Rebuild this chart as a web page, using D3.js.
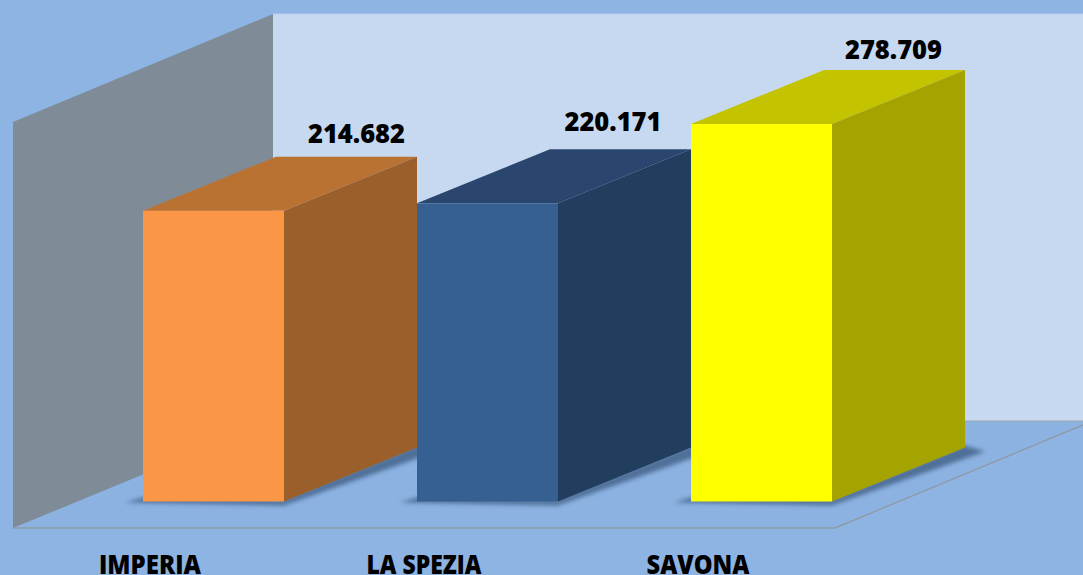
<!DOCTYPE html>
<html>
<head>
<meta charset="utf-8">
<script src="https://cdn.jsdelivr.net/npm/d3@7/dist/d3.min.js"></script>
<style>
html,body{margin:0;padding:0;background:#8EB4E3;overflow:hidden}
svg{display:block}
text{font-family:"Open Sans","Noto Sans",sans-serif;font-weight:800;fill:#000}
</style>
</head>
<body>
<svg id="c" width="1083" height="575"></svg>
<script>
const categories = ["IMPERIA", "LA SPEZIA", "SAVONA"];
const values = [214682, 220171, 278709];
const frontColors = ["#FB9647", "#376092", "#FFFF00"];
const topColors = ["#BA7233", "#2A466E", "#C3C300"];
const sideColors = ["#9B5F2B", "#213E5F", "#A5A300"];

const W = 1083, H = 575;
const depth = {x: 133, y: -54};
const baseY = 501.5;
const svg = d3.select("#c");

const x = d3.scaleBand().domain(categories).range([143, 832]).paddingInner(133 / 274).paddingOuter(0);
const y = d3.scaleLinear().domain([0, 278709]).range([baseY, 124]);
const fmt = d3.formatLocale({decimal: ",", thousands: ".", grouping: [3], currency: ["", "€"]}).format(",d");
const pts = a => a.map(p => p.join(",")).join(" ");

const defs = svg.append("defs");
defs.append("filter").attr("id", "blur").attr("x", "-20%").attr("y", "-20%").attr("width", "140%").attr("height", "140%")
  .append("feGaussianBlur").attr("stdDeviation", 2);

// page background
svg.append("rect").attr("width", W).attr("height", H).attr("fill", "#8EB4E3");

// back wall
svg.append("polygon").attr("points", pts([[273, 14], [W, 14], [W, 421], [273, 421]])).attr("fill", "#C6D9F1");
svg.append("line").attr("x1", 273).attr("x2", W).attr("y1", 14).attr("y2", 14).attr("stroke", "#B4CDEC").attr("stroke-width", 1);

// floor
svg.append("polygon").attr("points", pts([[13, 528], [273, 421], [W, 421], [W, 425], [835, 528]])).attr("fill", "#8CB2E2");
svg.append("line").attr("x1", 273).attr("x2", W).attr("y1", 421).attr("y2", 421).attr("stroke", "#9FA7AE").attr("stroke-width", 1.2);
svg.append("polyline").attr("points", pts([[13, 528], [835, 528], [W, 425]])).attr("fill", "none").attr("stroke", "#8F9AA6").attr("stroke-width", 1.4);

// side wall
svg.append("polygon").attr("points", pts([[13, 122], [273, 14], [273, 421], [13, 528]])).attr("fill", "#7F8C98");

// bars
const bars = svg.selectAll("g.bar").data(categories).join("g").attr("class", "bar");
bars.each(function(c, i) {
  const g = d3.select(this);
  const x0 = x(c), x1 = x0 + x.bandwidth(), yT = y(values[i]), yB = y(0);
  // contact shadow on the floor
  g.append("polygon")
    .attr("points", pts([[x0 - 17, yB + 1], [x1, yB + 4], [x1 + depth.x + 20, yB + depth.y + 4], [x1 + depth.x, yB + depth.y - 2], [x1, yB - 2], [x0, yB - 4]]))
    .attr("fill", "#3F5F85").attr("opacity", 0.8).attr("filter", "url(#blur)");
  g.append("polygon").attr("points", pts([[x0, yT], [x0 + depth.x, yT + depth.y], [x1 + depth.x, yT + depth.y], [x1, yT]])).attr("fill", topColors[i]);
  g.append("polygon").attr("points", pts([[x1, yT], [x1 + depth.x, yT + depth.y], [x1 + depth.x, yB + depth.y], [x1, yB]])).attr("fill", sideColors[i]);
  g.append("rect").attr("x", x0).attr("y", yT).attr("width", x.bandwidth()).attr("height", yB - yT).attr("fill", frontColors[i]);
});

// value labels
const labelDx = [143, 125.5, 132];
const labelDy = [-14, -18, -11];
svg.selectAll("text.val").data(categories).join("text").attr("class", "val")
  .attr("x", (c, i) => x(c) + x.bandwidth() / 2 + labelDx[i])
  .attr("y", (c, i) => y(values[i]) + depth.y + labelDy[i])
  .attr("text-anchor", "middle").attr("font-size", 27)
  .attr("textLength", 97).attr("lengthAdjust", "spacingAndGlyphs")
  .text((c, i) => fmt(values[i]));

// category axis
const axis = d3.axisBottom(x).tickSize(0).tickPadding(0);
const ax = svg.append("g").attr("transform", "translate(-63.5,551)").call(axis);
ax.select(".domain").remove();
const catWidths = [102, 115, 103];
ax.selectAll("text")
  .attr("font-size", 26).attr("font-family", null).style("font-family", '"Open Sans","Noto Sans",sans-serif')
  .style("font-weight", 800).attr("fill", "#000")
  .attr("dy", 0).attr("y", 22.5)
  .attr("textLength", (c, i) => catWidths[i]).attr("lengthAdjust", "spacingAndGlyphs");
</script>
</body>
</html>
